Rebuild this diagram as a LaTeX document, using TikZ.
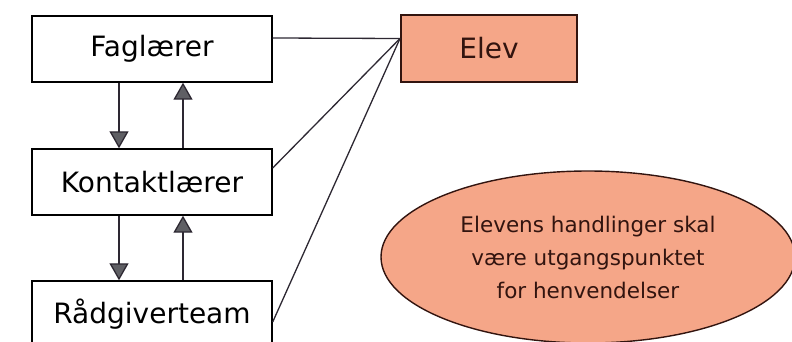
\documentclass[tikz,border=0pt]{standalone}
\usepackage{fontspec}
\setmainfont{DejaVu Sans}
\usetikzlibrary{shapes.geometric,arrows.meta}
\definecolor{salmon}{RGB}{245,166,136}
\definecolor{edgedark}{RGB}{50,20,15}
\definecolor{linecol}{RGB}{45,40,50}
\definecolor{tipgray}{RGB}{95,95,100}
\tikzset{
  plainbox/.style={draw=black, line width=1.4pt, fill=white, minimum width=240pt, minimum height=66pt, inner sep=0pt, font=\fontsize{28}{32}\selectfont},
  elevbox/.style={draw=edgedark, line width=2pt, fill=salmon, minimum width=176pt, minimum height=67pt, inner sep=0pt, font=\fontsize{28}{32}\selectfont, text=edgedark},
  bubble/.style={ellipse, draw=edgedark, line width=1.4pt, fill=salmon, minimum width=414pt, minimum height=172pt, inner sep=0pt, align=center, font=\fontsize{21.5}{33}\selectfont, text=edgedark},
  flow/.style={draw=linecol, line width=1.3pt, -{Triangle[width=19pt,length=17pt,fill=tipgray]}},
  link/.style={draw=linecol, line width=1.3pt}
}
\begin{document}
\begin{tikzpicture}[x=1pt,y=-1pt]
\useasboundingbox (0,0) rectangle (792,342);
\node[plainbox] (f) at (152,49) {Faglærer};
\node[plainbox] (k) at (152,182) {Kontaktlærer};
\node[plainbox] (r) at (152,314) {Rådgiverteam};
\node[elevbox] (e) at (489,48.5) {Elev};
\node[bubble] (b) at (588,257) {Elevens handlinger skal\\være utgangspunktet\\for henvendelser};
\coordinate (ein) at ([yshift=10pt]e.west);
\draw[flow] ([xshift=-33pt]f.south) -- ([xshift=-33pt]k.north);
\draw[flow] ([xshift=31pt]k.north) -- ([xshift=31pt]f.south);
\draw[flow] ([xshift=-33pt]k.south) -- ([xshift=-33pt]r.north);
\draw[flow] ([xshift=31pt]r.north) -- ([xshift=31pt]k.south);
\draw[link] ([yshift=11pt]f.east) -- (ein);
\draw[link] ([yshift=14pt]k.east) -- (ein);
\draw[link] ([yshift=-8pt]r.east) -- (ein);
\end{tikzpicture}
\end{document}
